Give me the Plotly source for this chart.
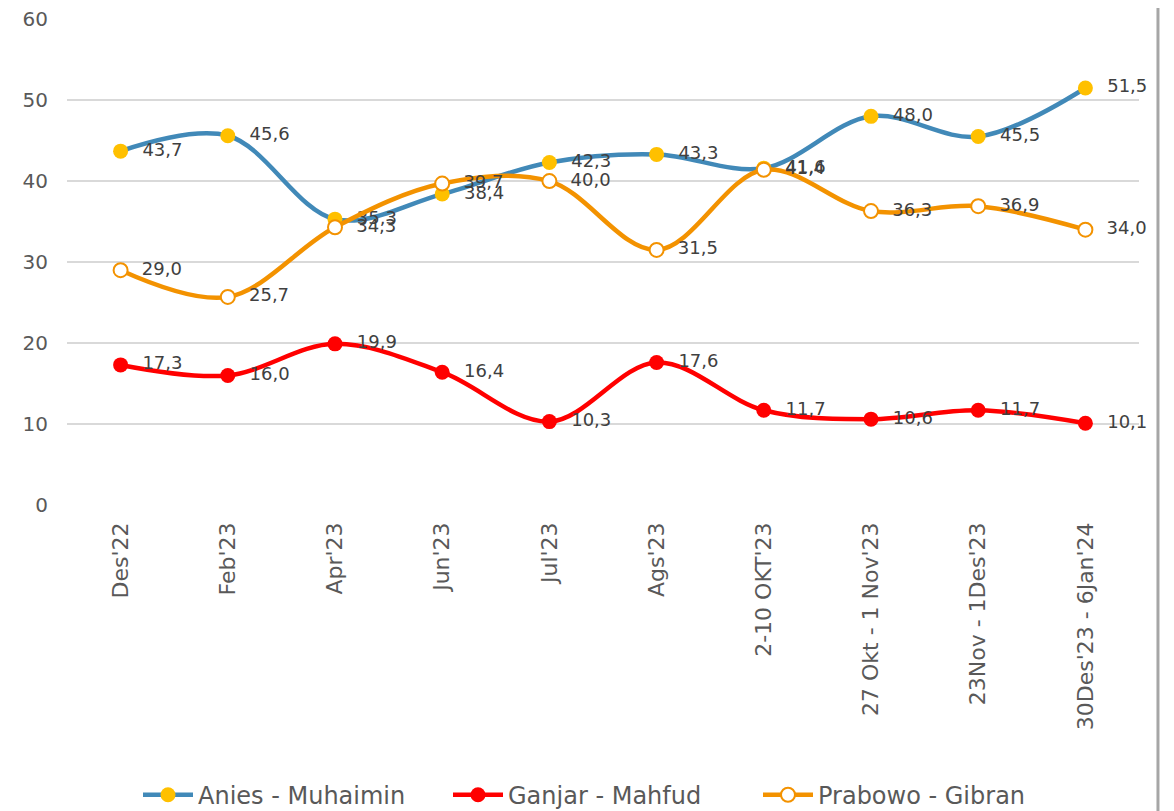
import plotly.graph_objects as go

categories = ["Des'22", "Feb'23", "Apr'23", "Jun'23", "Jul'23", "Ags'23",
              "2-10 OKT'23", "27 Okt - 1 Nov'23", "23Nov - 1Des'23", "30Des'23 - 6Jan'24"]
anies = [43.7, 45.6, 35.3, 38.4, 42.3, 43.3, 41.6, 48.0, 45.5, 51.5]
ganjar = [17.3, 16.0, 19.9, 16.4, 10.3, 17.6, 11.7, 10.6, 11.7, 10.1]
prabowo = [29.0, 25.7, 34.3, 39.7, 40.0, 31.5, 41.4, 36.3, 36.9, 34.0]
y_ticks = [0, 10, 20, 30, 40, 50, 60]

FONT = "DejaVu Sans"
LABEL = "#404040"
GREY = "#595959"

fig = go.Figure()

def add(name, vals, line_color, marker):
    fig.add_trace(go.Scatter(
        x=categories, y=vals, name=name,
        mode="lines+markers+text",
        line=dict(color=line_color, width=4.5, shape="spline", smoothing=1),
        marker=marker,
        text=["\u00a0\u00a0" + f"{v:.1f}".replace(".", ",") for v in vals],
        textposition="middle right",
        textfont=dict(family=FONT, size=18, color=LABEL),
        cliponaxis=False,
    ))

add("Anies - Muhaimin", anies, "#4189B8",
    dict(color="#FFC000", size=15, line=dict(width=0)))
add("Ganjar - Mahfud", ganjar, "#FF0000",
    dict(color="#FF0000", size=15, line=dict(width=0)))
add("Prabowo - Gibran", prabowo, "#F39200",
    dict(color="#FFFFFF", size=14, line=dict(color="#F39200", width=2)))

fig.update_layout(
    width=1166, height=803,
    margin=dict(l=59, r=35, t=11, b=306, autoexpand=False),
    paper_bgcolor="white", plot_bgcolor="white",
    font=dict(family=FONT, color=GREY),
    showlegend=True,
    legend=dict(orientation="h", x=0.5, xanchor="center", y=-0.597, yanchor="middle",
                font=dict(family=FONT, size=24, color=GREY),
                itemwidth=50, tracegroupgap=0, entrywidth=245),
    xaxis=dict(type="category", range=[-0.5, 9.5], showgrid=False, showline=False,
               tickangle=-90, tickfont=dict(family=FONT, size=22, color=GREY),
               ticks="", ticklabelstandoff=12, automargin=False),
    yaxis=dict(range=[0, 60.02], tickvals=y_ticks, showgrid=True, gridcolor="#D9D9D9",
               gridwidth=1.5, zeroline=False, showline=False,
               tickfont=dict(family=FONT, size=20, color=GREY),
               ticklabelstandoff=18, ticklabeloverflow="allow", automargin=False),
    shapes=[dict(type="line", xref="paper", yref="paper", x0=1.0177, x1=1.0177,
                 y0=-1.0, y1=1.2, line=dict(color="#A6A6A6", width=3))],
)

fig.write_html("out.html")
